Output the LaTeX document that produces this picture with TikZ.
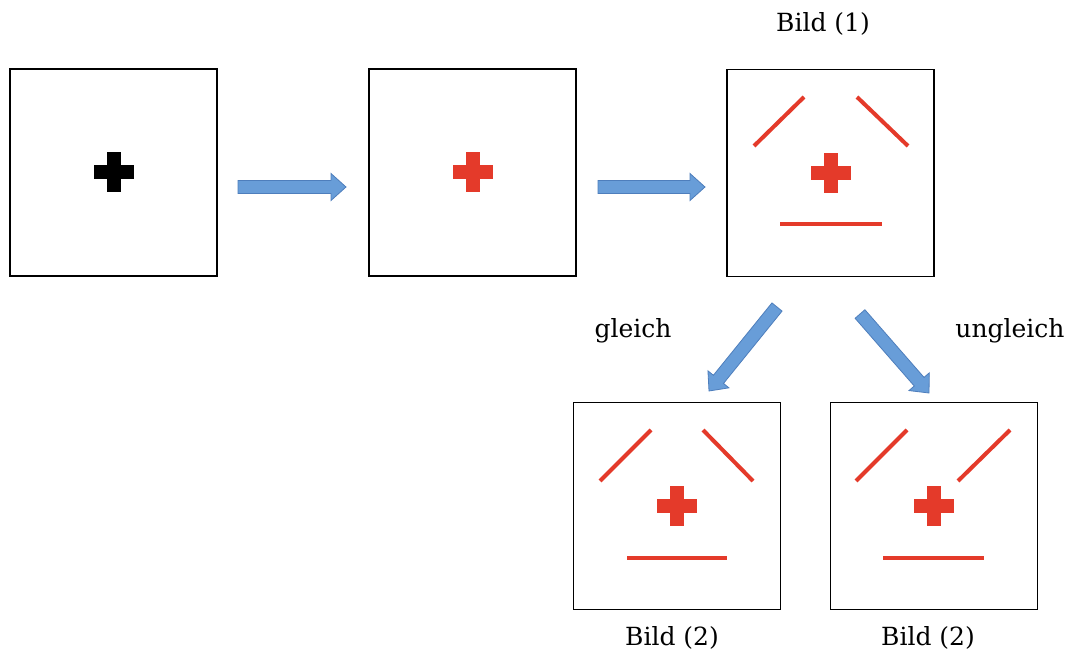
\documentclass[tikz,border=0pt]{standalone}
\usepackage{fontspec}
\setmainfont{DejaVu Serif}
\usetikzlibrary{calc}
\definecolor{myred}{RGB}{228,58,42}
\definecolor{arrfill}{RGB}{104,157,216}
\definecolor{arredge}{RGB}{78,126,188}
\tikzset{
  box/.style={draw=black, line width=1.6pt, fill=white, minimum width=207pt, minimum height=207pt, inner sep=0pt},
  redline/.style={draw=myred, line width=4pt},
  fatarrow/.style={fill=arrfill, draw=arredge, line width=0.8pt, line join=miter},
  lbl/.style={font=\fontsize{25}{28}\selectfont, inner sep=0pt}
}
\newcommand\fatarrowdraw[2]{%
  \path ($(#2)!15pt!(#1)$) coordinate (tmpB);
  \draw[fatarrow] ($(#1)!6.5pt!90:(#2)$) -- ($(tmpB)!6.5pt!90:(#2)$) -- ($(tmpB)!13.5pt!90:(#2)$) -- (#2) -- ($(tmpB)!13.5pt!-90:(#2)$) -- ($(tmpB)!6.5pt!-90:(#2)$) -- ($(#1)!6.5pt!-90:(#2)$) -- cycle;}
\newcommand\plusmark[2]{%
  \fill[#2] ($(#1)+(-20pt,-7pt)$) rectangle ($(#1)+(20pt,7pt)$);
  \fill[#2] ($(#1)+(-7pt,-20pt)$) rectangle ($(#1)+(7pt,20pt)$);}
\begin{document}
\begin{tikzpicture}[x=1pt,y=-1pt]
\useasboundingbox[fill=white] (0,0) rectangle (1071,655);
% boxes
\node[box] (b1) at (113.5,172.5) {};
\node[box] (b2) at (472.5,172.5) {};
\node[box] (b3) at (830.5,173) {};
\node[box] (b4) at (677,506) {};
\node[box] (b5) at (934,506) {};
% crosses
\plusmark{b1.center}{black}
\plusmark{b2.center}{myred}
\plusmark{b3.center}{myred}
\plusmark{b4.center}{myred}
\plusmark{b5.center}{myred}
% face lines box 3
\draw[redline] (754,146) -- (804,97);
\draw[redline] (857,97) -- (908,146);
\draw[redline] (780,224) -- (882,224);
% box 4
\draw[redline] (600,481) -- (651,430);
\draw[redline] (703,430) -- (753,481);
\draw[redline] (627,558) -- (727,558);
% box 5
\draw[redline] (856,481) -- (907,430);
\draw[redline] (958,481) -- (1010,430);
\draw[redline] (883,558) -- (984,558);
% arrows
\coordinate (a1s) at (238,187);
\coordinate (a1e) at (346,187);
\coordinate (a2s) at (598,187);
\coordinate (a2e) at (705,187);
\coordinate (a3s) at (777,307);
\coordinate (a3e) at (709,391);
\coordinate (a4s) at (860,314);
\coordinate (a4e) at (929,393);
\fatarrowdraw{a1s}{a1e}
\fatarrowdraw{a2s}{a2e}
\fatarrowdraw{a3s}{a3e}
\fatarrowdraw{a4s}{a4e}
% labels
\node[lbl] (t1) at (823,24) {Bild (1)};
\node[lbl] (t2) at (633,331) {gleich};
\node[lbl] (t3) at (1010,331) {ungleich};
\node[lbl] (t4) at (672,638) {Bild (2)};
\node[lbl] (t5) at (928,638) {Bild (2)};
\end{tikzpicture}
\end{document}
